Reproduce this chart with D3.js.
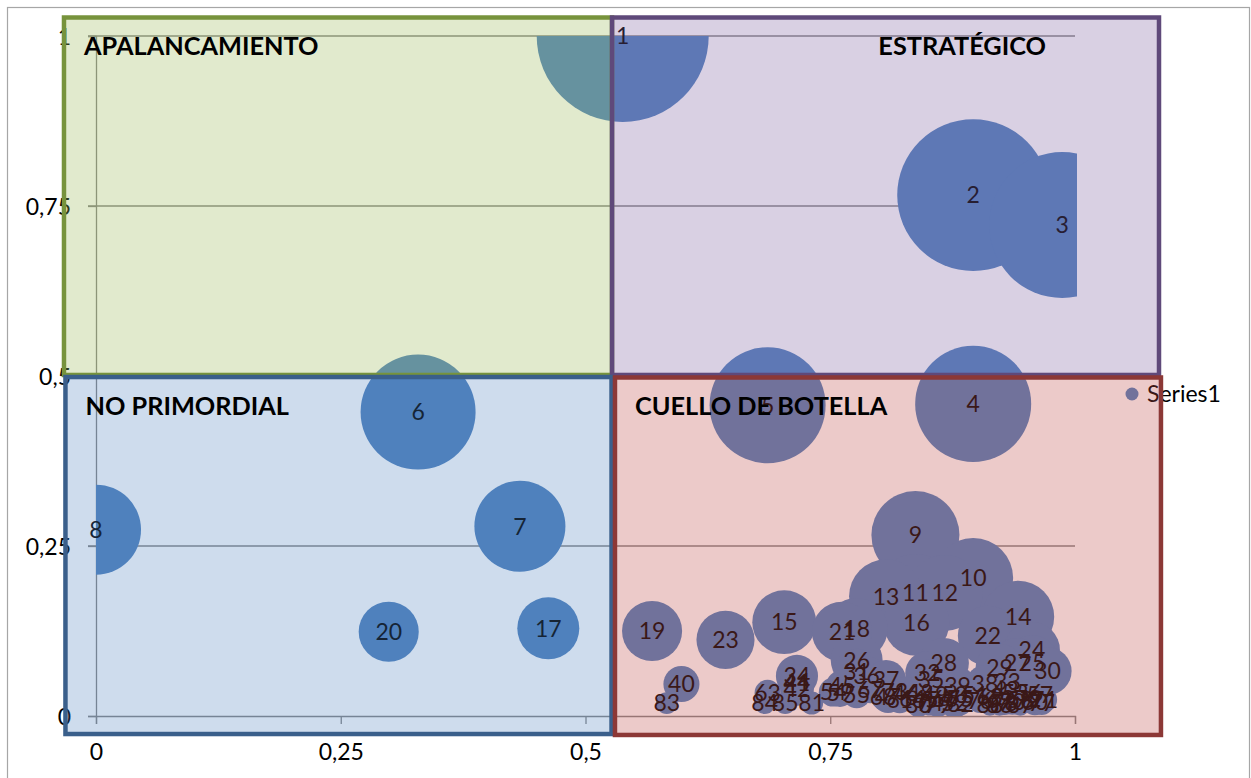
<!DOCTYPE html>
<html>
<head>
<meta charset="utf-8">
<script src="https://cdn.jsdelivr.net/npm/d3@7"></script>
<style>
  html, body { margin: 0; padding: 0; background: #fff; }
  svg { display: block; }
</style>
</head>
<body>
<svg id="chart" width="1251" height="778"></svg>
<script>
// ---- data: one bubble per item (label = item number) ----
const xValues = [
  0.538, 0.896, 0.987, 0.896, 0.686, 0.329, 0.433, 0.000, 0.837, 0.896,
  0.837, 0.867, 0.807, 0.942, 0.703, 0.838, 0.462, 0.777, 0.568, 0.299,
  0.762, 0.911, 0.643, 0.956, 0.956, 0.777, 0.941, 0.866, 0.923, 0.972,
  0.777, 0.849, 0.931, 0.716, 0.853, 0.787, 0.807, 0.908, 0.880, 0.598,
  0.716, 0.716, 0.929, 0.716, 0.762, 0.827, 0.809, 0.842, 0.857, 0.877,
  0.898, 0.877, 0.939, 0.753, 0.777, 0.954, 0.964, 0.944, 0.760, 0.959,
  0.821, 0.913, 0.686, 0.834, 0.847, 0.867, 0.791, 0.804, 0.923, 0.936,
  0.969, 0.952, 0.816, 0.852, 0.883, 0.903, 0.966, 0.928, 0.860, 0.840,
  0.731, 0.883, 0.583, 0.683, 0.704, 0.923, 0.944, 0.913
];
const yValues = [
  1.000, 0.766, 0.722, 0.459, 0.457, 0.447, 0.279, 0.274, 0.266, 0.203,
  0.181, 0.181, 0.176, 0.146, 0.138, 0.137, 0.129, 0.128, 0.125, 0.124,
  0.124, 0.118, 0.112, 0.097, 0.079, 0.082, 0.078, 0.078, 0.071, 0.066,
  0.065, 0.063, 0.051, 0.059, 0.053, 0.059, 0.053, 0.047, 0.044, 0.047,
  0.049, 0.040, 0.038, 0.051, 0.044, 0.034, 0.028, 0.034, 0.032, 0.031,
  0.032, 0.019, 0.034, 0.035, 0.032, 0.034, 0.031, 0.024, 0.034, 0.021,
  0.024, 0.028, 0.034, 0.026, 0.024, 0.025, 0.038, 0.029, 0.024, 0.021,
  0.024, 0.026, 0.035, 0.019, 0.026, 0.022, 0.019, 0.019, 0.016, 0.016,
  0.019, 0.018, 0.019, 0.019, 0.019, 0.016, 0.016, 0.016
];
const sizes = [
  100, 78, 72, 45.5, 45.5, 44.7, 28, 27.4, 26.2, 21.6,
  20.6, 19.5, 18.5, 17.5, 13.8, 14.7, 13, 13, 12.2, 12.2,
  12.2, 12.2, 11.4, 10.6, 9.9, 9.1, 8.5, 8.5, 7.8, 7.8,
  7.2, 6.5, 6.5, 6, 6, 5.4, 5.4, 4.9, 4.9, 4.4,
  4.1, 3.9, 3.9, 3.7, 3.5, 3.5, 3.5, 3.2, 3.2, 3,
  3, 3, 2.8, 2.8, 2.65, 2.65, 2.65, 2.65, 2.65, 2.5,
  2.5, 2.5, 2.3, 2.3, 2.3, 2.3, 2.3, 2.3, 2.3, 2.3,
  2.1, 2.1, 2.1, 2.1, 2.1, 1.95, 1.95, 1.95, 1.95, 1.95,
  1.8, 1.8, 1.6, 1.6, 1.6, 1.5, 1.5, 1.5
];
const xTicks = [0, 0.25, 0.5, 0.75, 1];
const yTicks = [0, 0.25, 0.5, 0.75, 1];
const seriesName = "Series1";
const quadrantNames = ["APALANCAMIENTO", "ESTRATÉGICO", "NO PRIMORDIAL", "CUELLO DE BOTELLA"];

// ---- quadrant panels (bounds in axis units) ----
const quadrants = [
  { name: quadrantNames[0], x0: -0.0327, x1: 0.5271, y0: 0.5015, y1: 1.0272, fill: "#9bbb59", op: 0.3,  stroke: "#77933c", anchor: "start", dx: 20 },
  { name: quadrantNames[1], x0: 0.5271, x1: 1.0858, y0: 0.5015, y1: 1.0272, fill: "#8064a2", op: 0.3,  stroke: "#5f497a", anchor: "end",   dx: -113 },
  { name: quadrantNames[2], x0: -0.0312, x1: 0.5266, y0: -0.0265, y1: 0.4985, fill: "#4f81bd", op: 0.28, stroke: "#3a5f8b", anchor: "start", dx: 20 },
  { name: quadrantNames[3], x0: 0.5301, x1: 1.0878, y0: -0.0279, y1: 0.4978, fill: "#c0504d", op: 0.3,  stroke: "#8c3836", anchor: "start", dx: 20 }
];

const W = 1251, H = 778;
const margin = { left: 96, top: 36, right: 176, bottom: 62 };
const FONT = "Lato, 'Open Sans', sans-serif";
const axisColor = "#868686";

const svg = d3.select("#chart");
const x = d3.scaleLinear().domain([0, 1]).range([margin.left, W - margin.right]);
const y = d3.scaleLinear().domain([0, 1]).range([H - margin.bottom, margin.top]);
const r = d3.scaleSqrt().domain([0, 100]).range([0, 86]);

const locale = d3.formatLocale({ decimal: ",", thousands: ".", grouping: [3], currency: ["", "€"] });
const fmt = locale.format("~g");

const data = xValues.map((v, i) => ({ label: String(i + 1), x: v, y: yValues[i], size: sizes[i] }));

// chart frame
svg.append("rect").attr("x", 7.5).attr("y", 7.5).attr("width", W - 9).attr("height", H + 10)
  .attr("fill", "#fff").attr("stroke", "#a6a6a6").attr("stroke-width", 1.2);

// horizontal gridlines
svg.append("g").selectAll("line").data(yTicks.filter(d => d > 0)).join("line")
  .attr("x1", x(0) - 8).attr("x2", x(1))
  .attr("y1", d => y(d)).attr("y2", d => y(d))
  .attr("stroke", axisColor).attr("stroke-width", 1.3);

// axes
const xAxis = svg.append("g").attr("transform", `translate(0,${y(0)})`)
  .call(d3.axisBottom(x).tickValues(xTicks).tickFormat(fmt).tickSizeOuter(0).tickSize(8).tickPadding(20));
const yAxis = svg.append("g").attr("transform", `translate(${x(0)},0)`)
  .call(d3.axisLeft(y).tickValues(yTicks).tickFormat(fmt).tickSizeOuter(0).tickSize(8).tickPadding(17));
[xAxis, yAxis].forEach(g => {
  g.select(".domain").attr("stroke", axisColor).attr("stroke-width", 1.3);
  g.selectAll(".tick line").attr("stroke", axisColor).attr("stroke-width", 1.3);
  g.selectAll(".tick text").attr("fill", "#000").style("font-family", FONT).style("font-size", "23px");
});
yAxis.selectAll(".tick text").attr("dy", "0.35em");

// bubbles, clipped to the plot area
svg.append("clipPath").attr("id", "plotClip").append("rect")
  .attr("x", x(0)).attr("y", y(1)).attr("width", x(1) - x(0) + 2).attr("height", y(0) - y(1));
svg.append("g").attr("clip-path", "url(#plotClip)")
  .selectAll("circle").data(data).join("circle")
  .attr("cx", d => x(d.x)).attr("cy", d => y(d.y)).attr("r", d => r(d.size))
  .attr("fill", "#4f81bd");

// bubble labels
svg.append("g").selectAll("text").data(data).join("text")
  .attr("x", d => x(d.x)).attr("y", d => y(d.y)).attr("dy", "0.36em")
  .attr("text-anchor", "middle")
  .style("font-family", FONT).style("font-size", "23px").attr("fill", "#000")
  .text(d => d.label);

// legend
const lg = svg.append("g").attr("transform", `translate(1132,394)`);
lg.append("circle").attr("r", 6.5).attr("fill", "#4f81bd");
lg.append("text").attr("x", 15).attr("dy", "0.36em")
  .style("font-family", FONT).style("font-size", "23px").attr("fill", "#000").text(seriesName);

// quadrant panels on top
const qg = svg.append("g");
quadrants.forEach(q => {
  qg.append("rect")
    .attr("x", x(q.x0)).attr("y", y(q.y1))
    .attr("width", x(q.x1) - x(q.x0)).attr("height", y(q.y0) - y(q.y1))
    .attr("fill", q.fill).attr("fill-opacity", q.op)
    .attr("stroke", q.stroke).attr("stroke-width", 4.5);
});
quadrants.forEach(q => {
  const tx = q.anchor === "start" ? x(q.x0) + q.dx : x(q.x1) + q.dx;
  qg.append("text")
    .attr("x", tx).attr("y", y(q.y1) + 37.5)
    .attr("text-anchor", q.anchor)
    .style("font-family", FONT).style("font-size", "25.3px").style("font-weight", "bold")
    .attr("fill", "#000").text(q.name);
});
</script>
</body>
</html>
